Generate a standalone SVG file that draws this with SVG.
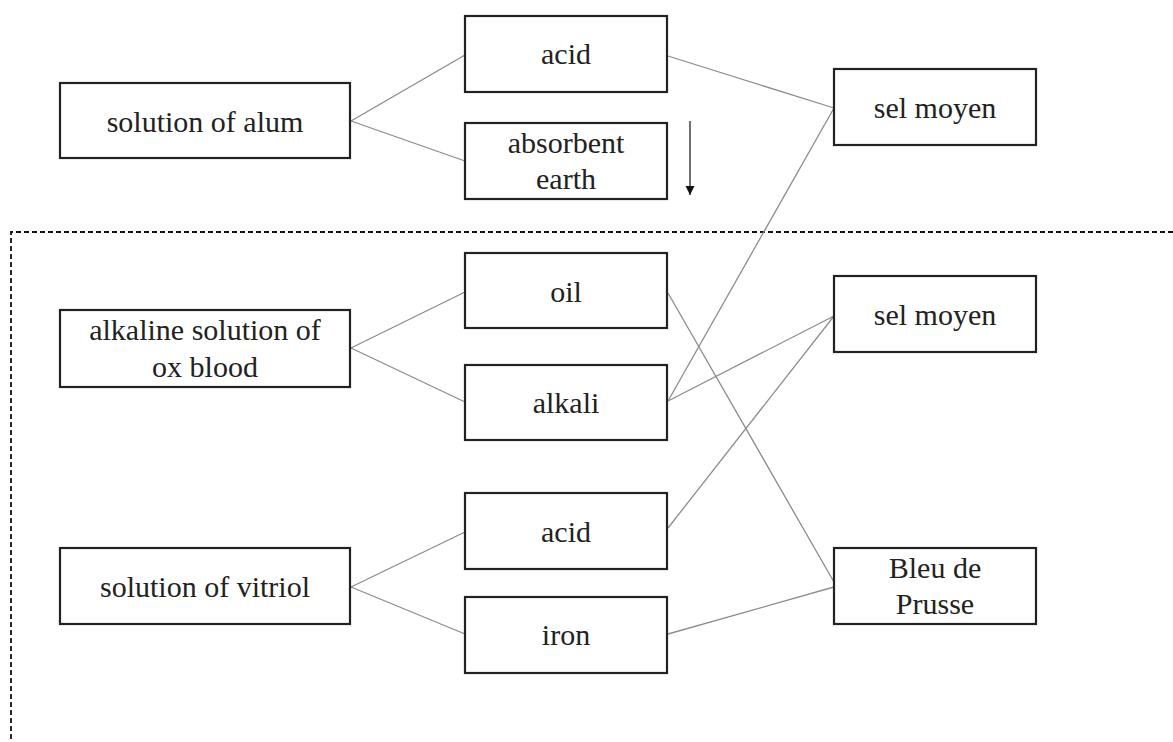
<svg xmlns="http://www.w3.org/2000/svg" width="1173" height="742" viewBox="0 0 1173 742">
<defs>
<style>
.box rect{fill:#fff;stroke:#222;stroke-width:2.2}
.box text{font-family:'Liberation Serif','DejaVu Serif',serif;font-size:30px;fill:#222;text-anchor:middle}
.conn line{stroke:#8c8c8c;stroke-width:1.3;fill:none}
.frame{stroke:#111;stroke-width:1.8;stroke-dasharray:5,3;fill:none}
</style>
<marker id="ah" markerWidth="10" markerHeight="12" refX="9" refY="5" orient="auto" markerUnits="userSpaceOnUse">
<path d="M0,0.5 L9,5 L0,9.5 Z" fill="#111"/>
</marker>
</defs>
<rect width="1173" height="742" fill="#fff"/>
<path class="frame" d="M1173,232 L11,232 L11,742"/>
<g class="conn">
<line x1="351" y1="121" x2="465" y2="55"/>
<line x1="351" y1="121" x2="465" y2="161"/>
<line x1="668" y1="56" x2="834" y2="108"/>
<line x1="351" y1="348" x2="465" y2="292"/>
<line x1="351" y1="348" x2="465" y2="402"/>
<line x1="668" y1="401" x2="834" y2="108"/>
<line x1="668" y1="401" x2="834" y2="316"/>
<line x1="668" y1="293" x2="834" y2="582"/>
<line x1="351" y1="587" x2="465" y2="532"/>
<line x1="351" y1="587" x2="465" y2="634"/>
<line x1="668" y1="528" x2="834" y2="316"/>
<line x1="668" y1="634" x2="834" y2="587"/>
<line x1="690" y1="121" x2="690" y2="195" style="stroke:#111;stroke-width:1.2" marker-end="url(#ah)"/>
</g>
<g id="alum" class="box"><rect x="60" y="83" width="290" height="75"/><text x="205" y="132">solution of alum</text></g>
<g id="acid1" class="box"><rect x="465" y="16" width="202" height="76"/><text x="566" y="64">acid</text></g>
<g id="absorbent" class="box"><rect x="465" y="123" width="202" height="76"/><text x="566" y="153">absorbent</text><text x="566" y="189">earth</text></g>
<g id="selmoyen1" class="box"><rect x="834" y="69" width="202" height="76"/><text x="935" y="118">sel moyen</text></g>
<g id="oxblood" class="box"><rect x="60" y="310" width="290" height="77"/><text x="205" y="340">alkaline solution of</text><text x="205" y="377">ox blood</text></g>
<g id="oil" class="box"><rect x="465" y="253" width="202" height="75"/><text x="566" y="302">oil</text></g>
<g id="alkali" class="box"><rect x="465" y="365" width="202" height="75"/><text x="566" y="413">alkali</text></g>
<g id="selmoyen2" class="box"><rect x="834" y="276" width="202" height="76"/><text x="935" y="325">sel moyen</text></g>
<g id="vitriol" class="box"><rect x="60" y="548" width="290" height="76"/><text x="205" y="597">solution of vitriol</text></g>
<g id="acid2" class="box"><rect x="465" y="493" width="202" height="76"/><text x="566" y="542">acid</text></g>
<g id="iron" class="box"><rect x="465" y="597" width="202" height="76"/><text x="566" y="645">iron</text></g>
<g id="bleu" class="box"><rect x="834" y="548" width="202" height="76"/><text x="935" y="578">Bleu de</text><text x="935" y="614">Prusse</text></g>
</svg>
